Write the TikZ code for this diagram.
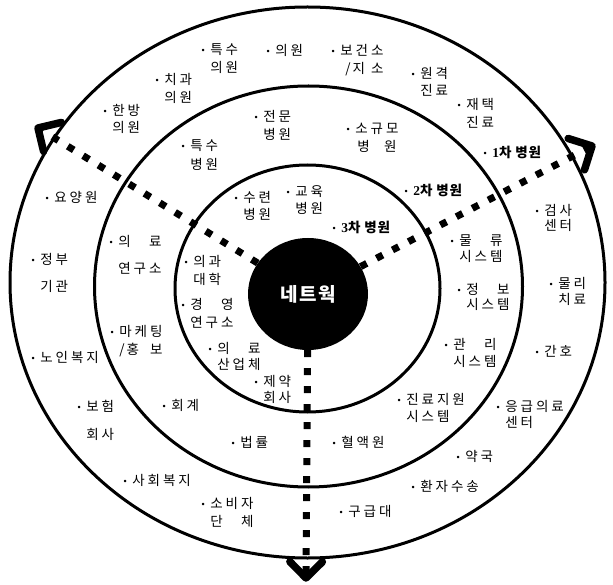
\documentclass[tikz,border=0pt]{standalone}
\usepackage{fontspec}
\usepackage{calc}
\usetikzlibrary{shapes.geometric,calc}
\newfontfamily\kr{Noto Sans CJK KR}[LetterSpace=22]
\newfontfamily\krbd{Noto Sans CJK KR}[LetterSpace=6]
\newfontfamily\hubfont{Noto Sans CJK KR}[LetterSpace=8]
\newfontfamily\bulfont{Liberation Sans}
\newfontfamily\digfont{Liberation Serif}
\newcommand\bul{{\bulfont\fontsize{9}{9}\selectfont\raisebox{1.7pt}{•}}\hspace{5.5pt}}
\newcommand\lb[3][17pt]{\vtop{\baselineskip=#1\lineskiplimit=-20pt\hbox{\bul#2}\hbox{\hphantom{\bul}#3}}}
\newcommand\spr[3]{\makebox[\widthof{#3}][s]{#1\hfill#2}}
\newcommand\grade[1]{\bul{\digfont\bfseries #1}{\krbd\bfseries 차 병원}}
\begin{document}
\begin{tikzpicture}[x=1pt,y=-1pt,
  ring/.style={line width=3pt},
  hub/.style={ellipse, fill=black, minimum width=120pt, minimum height=112pt, inner sep=0pt, text=white, font=\hubfont\bfseries\fontsize{19}{19}\selectfont},
  spoke/.style={line width=7pt, dash pattern=on 7pt off 11pt},
  chev/.style={line width=7.5pt, line join=round, line cap=round},
  lab/.style={anchor=base west, inner sep=0pt, xshift=-1.6pt, yshift=-4.9pt, font=\kr\fontsize{13.5}{17}\selectfont}]
\fill[white] (0,0) rectangle (613,585);
\useasboundingbox (0,0) rectangle (613,585);
% rings
\draw[ring] (307.5,282.5) ellipse [x radius=297.5pt, y radius=275.5pt];
\draw[ring] (308.5,286.5) ellipse [x radius=214pt, y radius=200.5pt];
\draw[ring] (307.5,288.5) ellipse [x radius=132.5pt, y radius=123.5pt];
% hub
\node[hub] (hub) at (308,294) {네트웍};
% spokes
\coordinate (tipL) at (38,128);
\coordinate (tipR) at (592,146);
\coordinate (tipB) at (306,578);
\draw[spoke] (hub) -- (tipL);
\draw[spoke] (hub) -- (tipR);
\draw[spoke] (hub) -- (tipB);
\draw[chev] ($(tipL)!24pt!45:(hub)$) -- (tipL) -- ($(tipL)!24pt!-45:(hub)$);
\draw[chev] ($(tipR)!25pt!45:(hub)$) -- (tipR) -- ($(tipR)!25pt!-45:(hub)$);
\draw[chev] ($(tipB)!23pt!45:(hub)$) -- (tipB) -- ($(tipB)!23pt!-45:(hub)$);
% outer ring labels
\node[lab] (o1) at (203,50) {\lb[18pt]{특수}{의원}};
\node[lab] (o2) at (268,51) {\bul 의원};
\node[lab] (o3) at (333,51) {\lb[18pt]{보건소}{\makebox[\widthof{보건소}][s]{\hspace{5pt}/\hspace{2pt}지\hfill 소}}};
\node[lab] (o4) at (157,80) {\lb[18pt]{치과}{의원}};
\node[lab] (o5) at (413,74) {\lb[17pt]{원격}{진료}};
\node[lab] (o6) at (459,105) {\lb[18pt]{재택}{진료}};
\node[lab] (o7) at (105,111) {\lb[17pt]{한방}{의원}};
\node[lab] (o8) at (485,153) {\grade{1}};
\node[lab] (o9) at (47,198) {\bul 요양원};
\node[lab] (o10) at (537,211) {\lb[15pt]{검사}{센터}};
\node[lab] (o11) at (33,260) {\lb[27pt]{정부}{기관}};
\node[lab] (o12) at (551,284) {\lb[16pt]{물리}{치료}};
\node[lab] (o13) at (537,352) {\bul 간호};
\node[lab] (o14) at (33,358) {\bul 노인복지};
\node[lab] (o15) at (79,407) {\lb[28pt]{보험}{회사}};
\node[lab] (o16) at (498,407) {\lb[16pt]{응급의료}{센터}};
\node[lab] (o17) at (458,457) {\bul 약국};
\node[lab] (o18) at (125,481) {\bul 사회복지};
\node[lab] (o19) at (413,487) {\bul 환자수송};
\node[lab] (o20) at (203,504) {\lb[18pt]{소비자}{\spr{단}{체}{소비자}}};
\node[lab] (o21) at (341,512) {\bul 구급대};
% middle ring labels
\node[lab] (m1) at (256,117) {\lb[18pt]{전문}{병원}};
\node[lab] (m2) at (348,129) {\lb[18pt]{소규모}{\makebox[\widthof{소규모}][s]{\hspace{2pt}병\hfill 원\hspace{2pt}}}};
\node[lab] (m3) at (183,146) {\lb[19pt]{특수}{병원}};
\node[lab] (m4) at (406,191) {\grade{2}};
\node[lab] (m5) at (111,242) {\lb[27pt]{\spr{의}{료}{연구소}}{연구소}};
\node[lab] (m6) at (452,241) {\lb[16pt]{\spr{물}{류}{시스템}}{시스템}};
\node[lab] (m7) at (459,290) {\lb[15pt]{\spr{정}{보}{시스템}}{시스템}};
\node[lab] (m8) at (112,332) {\lb[18pt]{마케팅}{\makebox[\widthof{마케팅}][s]{/\hspace{2pt}홍\hfill 보}}};
\node[lab] (m9) at (446,345) {\lb[17pt]{\spr{관}{리}{시스템}}{시스템}};
\node[lab] (m10) at (399,400) {\lb[17pt]{진료지원}{시스템}};
\node[lab] (m11) at (164,406) {\bul 회계};
\node[lab] (m12) at (233,443) {\bul 법률};
\node[lab] (m13) at (334,443) {\bul 혈액원};
% inner ring labels
\node[lab] (i1) at (236,198) {\lb[17pt]{수련}{병원}};
\node[lab] (i2) at (288,192) {\lb[17pt]{교육}{병원}};
\node[lab] (i3) at (334,228) {\grade{3}};
\node[lab] (i4) at (186,262) {\lb[18pt]{의과}{대학}};
\node[lab] (i5) at (183,305) {\lb[18pt]{\spr{경}{영}{연구소}}{연구소}};
\node[lab] (i6) at (210,349) {\lb[16pt]{\spr{의}{료}{산업체}}{산업체}};
\node[lab] (i7) at (256,382) {\lb[16pt]{제약}{회사}};
\end{tikzpicture}
\end{document}
